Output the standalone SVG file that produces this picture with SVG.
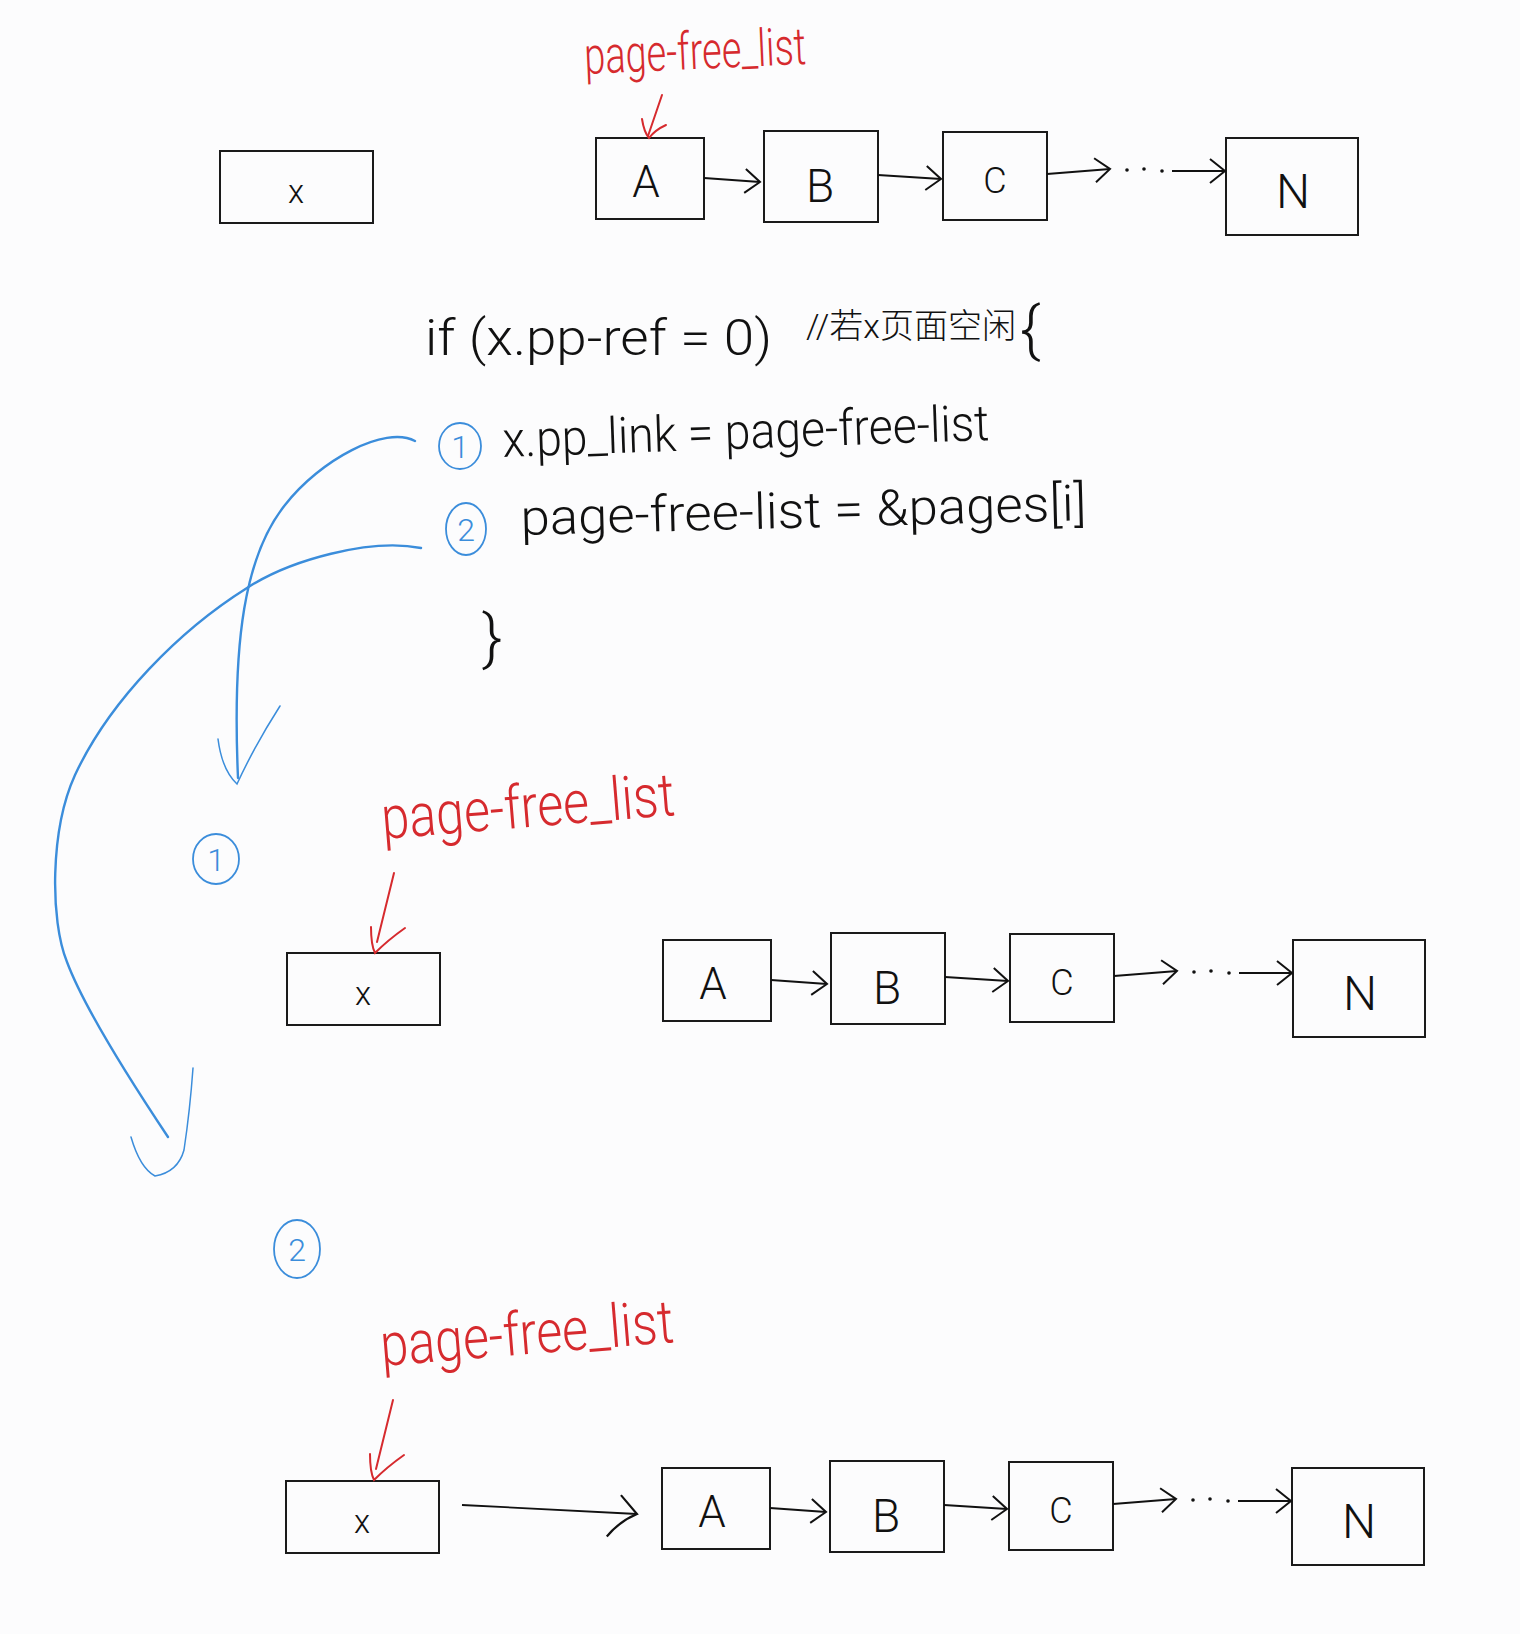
<svg xmlns="http://www.w3.org/2000/svg" width="1520" height="1634" viewBox="0 0 1520 1634">
<style>
  .box{fill:none;stroke:#1a1a1a;stroke-width:2}
  .lbl{font-family:Roboto,"Liberation Sans",sans-serif;font-weight:300;fill:#111;text-anchor:middle}
  .code{font-family:Roboto,"Liberation Sans","Noto Sans CJK SC",sans-serif;font-weight:300;fill:#111}
  .red{font-family:Roboto,"Liberation Sans",sans-serif;font-weight:300;fill:#d62a2e}
  .blue{font-family:Roboto,"Liberation Sans",sans-serif;font-weight:300;fill:#3b8ddb;text-anchor:middle}
  .lk{fill:none;stroke:#111;stroke-width:1.8}
  .rl{fill:none;stroke:#d62a2e;stroke-width:2;stroke-linecap:round}
  .bl{fill:none;stroke:#3b8ddb;stroke-width:2.4;stroke-linecap:round}
  .bh{fill:none;stroke:#3b8ddb;stroke-width:1.5;stroke-linecap:round}
  .bc{fill:none;stroke:#3b8ddb;stroke-width:1.8}
</style>
<defs>
  <marker id="ah" viewBox="0 0 20 26" refX="18" refY="13" markerWidth="20" markerHeight="26" markerUnits="userSpaceOnUse" orient="auto">
    <path d="M3,1 L18,13 L3,25" fill="none" stroke="#111" stroke-width="2"/>
  </marker>
  <marker id="ah2" viewBox="0 0 34 50" refX="31" refY="22" markerWidth="34" markerHeight="50" markerUnits="userSpaceOnUse" orient="auto">
    <path d="M14,4 L31,22 Q14,30 2,46" fill="none" stroke="#111" stroke-width="2.2"/>
  </marker>
</defs>
<rect width="1520" height="1634" fill="#fcfcfd"/>

<!-- code text -->
<g id="code">
  <text class="code" x="425" y="355" font-size="50" textLength="347" lengthAdjust="spacingAndGlyphs">if (x.pp-ref = 0)</text>
  <text class="code" x="806" y="338" font-size="34" textLength="210" lengthAdjust="spacingAndGlyphs">//若x页面空闲</text>
  <text class="code" x="1020" y="350" font-size="62">{</text>
  <text class="code" x="503" y="457" font-size="50" textLength="487" lengthAdjust="spacingAndGlyphs" transform="rotate(-2 503 457)">x.pp_link = page-free-list</text>
  <text class="code" x="521" y="535" font-size="50" textLength="566" lengthAdjust="spacingAndGlyphs" transform="rotate(-1.5 521 535)">page-free-list = &amp;pages[i]</text>
  <text class="code" x="482" y="658" font-size="62">}</text>
</g>

<!-- circled step numbers -->
<g id="step1a"><ellipse class="bc" cx="460" cy="446" rx="21" ry="23"/><text class="blue" x="460" y="458" font-size="32">1</text></g>
<g id="step2a"><ellipse class="bc" cx="466" cy="529" rx="20" ry="26"/><text class="blue" x="466" y="541" font-size="32">2</text></g>
<g id="step1b"><ellipse class="bc" cx="216" cy="859" rx="23" ry="25"/><text class="blue" x="216" y="871" font-size="32">1</text></g>
<g id="step2b"><ellipse class="bc" cx="297" cy="1249" rx="23" ry="29"/><text class="blue" x="297" y="1261" font-size="32">2</text></g>

<!-- red labels -->
<g id="pfl1"><text class="red" x="585" y="74" font-size="52" textLength="222" lengthAdjust="spacingAndGlyphs" transform="rotate(-2.6 585 74)">page-free_list</text></g>
<g id="pfl2"><text class="red" x="383" y="839" font-size="60" textLength="294" lengthAdjust="spacingAndGlyphs" transform="rotate(-4.7 383 839)">page-free_list</text></g>
<g id="pfl3"><text class="red" x="382" y="1366" font-size="60" textLength="294" lengthAdjust="spacingAndGlyphs" transform="rotate(-4.7 382 1366)">page-free_list</text></g>

<!-- row 1 -->
<g id="row1">
  <g id="x1"><rect class="box" x="220" y="151" width="153" height="72"/><text class="lbl" x="296" y="203" font-size="33">x</text></g>
  <g id="A1"><rect class="box" x="596" y="138" width="108" height="81"/><text class="lbl" x="646" y="197" font-size="44">A</text></g>
  <g id="B1"><rect class="box" x="764" y="131" width="114" height="91"/><text class="lbl" x="820" y="202" font-size="46">B</text></g>
  <g id="C1"><rect class="box" x="943" y="132" width="104" height="88"/><text class="lbl" x="995" y="193" font-size="36">C</text></g>
  <g id="N1"><rect class="box" x="1226" y="138" width="132" height="97"/><text class="lbl" x="1293" y="208" font-size="48">N</text></g>
</g>
<!-- row 2 -->
<g id="row2" transform="translate(67,802)">
  <g id="x2"><rect class="box" x="220" y="151" width="153" height="72"/><text class="lbl" x="296" y="203" font-size="33">x</text></g>
  <g id="A2"><rect class="box" x="596" y="138" width="108" height="81"/><text class="lbl" x="646" y="197" font-size="44">A</text></g>
  <g id="B2"><rect class="box" x="764" y="131" width="114" height="91"/><text class="lbl" x="820" y="202" font-size="46">B</text></g>
  <g id="C2"><rect class="box" x="943" y="132" width="104" height="88"/><text class="lbl" x="995" y="193" font-size="36">C</text></g>
  <g id="N2"><rect class="box" x="1226" y="138" width="132" height="97"/><text class="lbl" x="1293" y="208" font-size="48">N</text></g>
</g>
<!-- row 3 -->
<g id="row3" transform="translate(66,1330)">
  <g id="x3"><rect class="box" x="220" y="151" width="153" height="72"/><text class="lbl" x="296" y="203" font-size="33">x</text></g>
  <g id="A3"><rect class="box" x="596" y="138" width="108" height="81"/><text class="lbl" x="646" y="197" font-size="44">A</text></g>
  <g id="B3"><rect class="box" x="764" y="131" width="114" height="91"/><text class="lbl" x="820" y="202" font-size="46">B</text></g>
  <g id="C3"><rect class="box" x="943" y="132" width="104" height="88"/><text class="lbl" x="995" y="193" font-size="36">C</text></g>
  <g id="N3"><rect class="box" x="1226" y="138" width="132" height="97"/><text class="lbl" x="1293" y="208" font-size="48">N</text></g>
</g>

<!-- connectors -->
<g id="connectors">
  <g id="links1">
    <path class="lk" d="M704,178 L760,182" marker-end="url(#ah)"/>
    <path class="lk" d="M878,175 L941,179" marker-end="url(#ah)"/>
    <path class="lk" d="M1047,174 L1110,169" marker-end="url(#ah)"/>
    <circle cx="1127" cy="170" r="1.8" fill="#111"/><circle cx="1144" cy="169" r="1.8" fill="#111"/><circle cx="1162" cy="171" r="1.8" fill="#111"/>
    <path class="lk" d="M1172,171 L1225,171" marker-end="url(#ah)"/>
  </g>
  <g id="links2" transform="translate(67,802)">
    <path class="lk" d="M704,178 L760,182" marker-end="url(#ah)"/>
    <path class="lk" d="M878,175 L941,179" marker-end="url(#ah)"/>
    <path class="lk" d="M1047,174 L1110,169" marker-end="url(#ah)"/>
    <circle cx="1127" cy="170" r="1.8" fill="#111"/><circle cx="1144" cy="169" r="1.8" fill="#111"/><circle cx="1162" cy="171" r="1.8" fill="#111"/>
    <path class="lk" d="M1172,171 L1225,171" marker-end="url(#ah)"/>
  </g>
  <g id="links3" transform="translate(66,1330)">
    <path class="lk" d="M396,175 L571,184" marker-end="url(#ah2)"/>
    <path class="lk" d="M704,178 L760,182" marker-end="url(#ah)"/>
    <path class="lk" d="M878,175 L941,179" marker-end="url(#ah)"/>
    <path class="lk" d="M1047,174 L1110,169" marker-end="url(#ah)"/>
    <circle cx="1127" cy="170" r="1.8" fill="#111"/><circle cx="1144" cy="169" r="1.8" fill="#111"/><circle cx="1162" cy="171" r="1.8" fill="#111"/>
    <path class="lk" d="M1172,171 L1225,171" marker-end="url(#ah)"/>
  </g>
  <!-- red pointers -->
  <g id="ptr1"><path class="rl" d="M662,95 L648,136"/><path class="rl" d="M642,119 Q644,132 649,138 Q655,130 666,125"/></g>
  <g id="ptr2"><path class="rl" d="M394,873 L377,942"/><path class="rl" d="M371,927 Q371,945 375,953 Q388,940 405,928"/></g>
  <g id="ptr3"><path class="rl" d="M393,1400 L376,1469"/><path class="rl" d="M370,1454 Q370,1472 374,1480 Q387,1467 404,1455"/></g>
  <!-- blue step arrows -->
  <g id="flow1"><path class="bl" d="M415,441 C385,425 320,460 285,505 C245,555 232,640 238,778"/><path class="bh" d="M218,739 Q222,770 237,784 Q255,745 280,706"/></g>
  <g id="flow2"><path class="bl" d="M421,548 C370,538 290,560 247,588 C180,630 110,700 75,775 C50,830 50,920 67,962 C85,1010 130,1080 168,1137"/><path class="bh" d="M131,1137 Q140,1168 155,1176 Q178,1172 184,1150 Q190,1110 193,1068"/></g>
</g>
</svg>
